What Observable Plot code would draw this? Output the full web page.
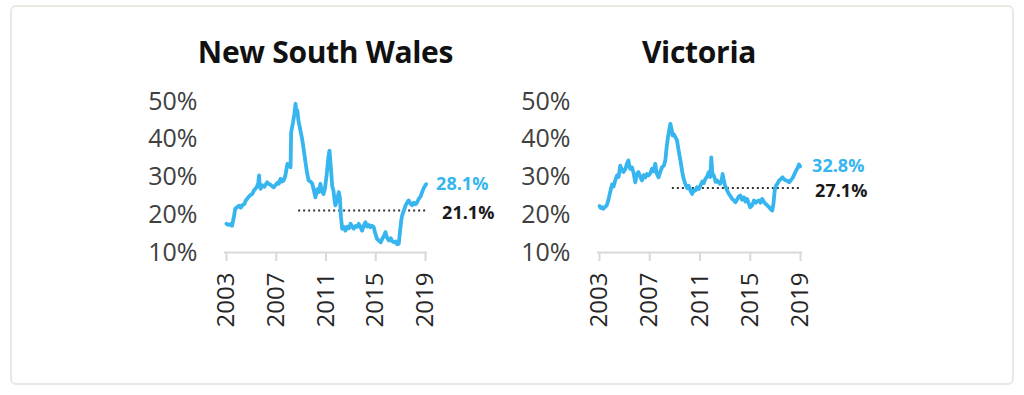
<!DOCTYPE html>
<html><head><meta charset="utf-8">
<script src="https://cdn.jsdelivr.net/npm/d3@7"></script>
<script src="https://cdn.jsdelivr.net/npm/@observablehq/plot@0.6"></script>
<style>
body{margin:0;background:#fff;font-family:"Open Sans",sans-serif;}
#wrap{position:relative;width:1024px;height:395px;overflow:hidden;background:#fff;}
#frame{position:absolute;left:10px;top:5px;width:1004px;height:380px;box-sizing:border-box;border:2px solid #ebe7e3;border-radius:6px;}
.title{position:absolute;width:400px;text-align:center;font-weight:700;font-size:30px;line-height:30px;color:#111;top:37px;font-family:"Open Sans",sans-serif;letter-spacing:-0.3px;}
.panel{position:absolute;top:80px;}
</style></head><body>
<div id="wrap"><div id="frame"></div>
<div class="title" style="left:125.5px">New South Wales</div>
<div class="title" style="left:499px">Victoria</div>
<div class="panel" id="nsw" style="left:140px"></div>
<div class="panel" id="vic" style="left:515px"></div>
</div>
<script>
// ---- Data ----
const titles = ["New South Wales", "Victoria"];
const yTicks = [10, 20, 30, 40, 50];
const xTicks = [2003, 2007, 2011, 2015, 2019];
const avgStart = 2008.8;

const nswYears = [2003.00,2003.15,2003.30,2003.45,2003.60,2003.70,2003.85,2004.00,2004.15,2004.30,2004.45,2004.55,2004.66,2004.80,2004.95,2005.07,2005.20,2005.33,2005.45,2005.55,2005.62,2005.68,2005.75,2005.90,2006.05,2006.15,2006.27,2006.40,2006.55,2006.68,2006.80,2006.95,2007.10,2007.20,2007.34,2007.45,2007.60,2007.72,2007.82,2007.90,2008.05,2008.15,2008.20,2008.35,2008.45,2008.55,2008.62,2008.70,2008.78,2008.90,2009.08,2009.22,2009.35,2009.48,2009.60,2009.75,2009.90,2010.02,2010.15,2010.30,2010.42,2010.55,2010.68,2010.80,2010.92,2011.05,2011.20,2011.28,2011.38,2011.50,2011.60,2011.70,2011.76,2011.88,2012.03,2012.12,2012.20,2012.30,2012.42,2012.56,2012.70,2012.85,2012.97,2013.10,2013.23,2013.38,2013.50,2013.63,2013.75,2013.90,2014.05,2014.17,2014.30,2014.45,2014.57,2014.70,2014.84,2014.95,2015.10,2015.25,2015.40,2015.55,2015.68,2015.78,2015.90,2016.05,2016.20,2016.32,2016.45,2016.60,2016.72,2016.85,2016.95,2017.05,2017.12,2017.25,2017.40,2017.52,2017.65,2017.78,2017.92,2018.05,2018.20,2018.33,2018.45,2018.60,2018.73,2018.85,2018.95,2019.05];
const nswValues = [17.6,17.3,17.5,17.1,19.5,21.6,22.0,22.4,21.9,22.6,22.9,23.8,24.2,24.8,25.3,25.5,26.4,26.9,27.5,28.4,30.4,27.4,26.9,27.8,27.4,28.0,28.6,28.2,27.9,27.5,27.3,27.9,28.5,28.2,29.5,28.8,29.1,30.2,32.0,33.5,33.0,32.6,41.9,44.5,46.5,49.4,47.0,47.6,45.0,43.0,40.1,37.0,33.9,31.0,29.1,28.8,28.2,26.5,24.6,26.8,26.0,28.2,26.2,25.5,27.0,30.5,35.5,37.0,33.0,27.5,26.4,23.5,22.5,24.0,26.0,24.5,19.5,16.3,16.8,15.8,16.8,16.4,17.6,16.9,16.3,17.0,16.8,17.6,16.9,15.8,17.2,18.0,16.9,17.3,16.7,17.1,16.7,15.2,13.6,13.2,12.7,13.8,14.5,15.4,14.0,13.2,13.8,13.0,12.7,12.9,12.2,12.3,15.5,18.5,19.8,21.0,22.5,23.2,23.8,23.0,22.5,23.2,22.8,23.3,24.2,24.8,26.0,27.0,27.6,28.1];
const nswLatest = 28.1;
const nswAverage = 21.1;

const vicYears = [2003.00,2003.10,2003.20,2003.30,2003.45,2003.58,2003.70,2003.85,2004.00,2004.12,2004.25,2004.40,2004.52,2004.65,2004.78,2004.90,2005.05,2005.18,2005.30,2005.38,2005.45,2005.58,2005.70,2005.85,2005.95,2006.10,2006.25,2006.38,2006.52,2006.65,2006.78,2006.90,2007.05,2007.18,2007.30,2007.44,2007.55,2007.70,2007.85,2007.98,2008.12,2008.24,2008.35,2008.45,2008.58,2008.64,2008.75,2008.82,2008.90,2009.05,2009.17,2009.30,2009.44,2009.58,2009.70,2009.85,2010.00,2010.10,2010.25,2010.37,2010.50,2010.63,2010.77,2010.90,2011.03,2011.18,2011.30,2011.43,2011.55,2011.70,2011.82,2011.90,2011.98,2012.10,2012.25,2012.37,2012.50,2012.60,2012.72,2012.80,2012.90,2013.00,2013.15,2013.30,2013.45,2013.56,2013.70,2013.82,2013.95,2014.08,2014.20,2014.35,2014.50,2014.62,2014.75,2014.88,2015.00,2015.15,2015.30,2015.45,2015.58,2015.70,2015.82,2015.95,2016.08,2016.20,2016.35,2016.50,2016.62,2016.75,2016.85,2016.95,2017.05,2017.18,2017.30,2017.45,2017.57,2017.70,2017.83,2017.95,2018.10,2018.25,2018.40,2018.52,2018.65,2018.78,2018.88,2018.97];
const vicValues = [22.3,21.8,22.0,21.6,22.1,22.5,23.8,26.0,28.0,27.5,29.1,30.4,30.0,33.0,32.0,31.3,32.0,33.5,34.4,32.8,32.2,32.6,31.3,28.6,30.5,31.3,30.0,29.1,30.5,29.9,30.8,30.4,31.0,32.2,31.5,33.5,31.0,29.9,31.5,32.6,33.0,34.4,38.0,40.5,43.0,44.1,42.5,41.0,41.4,40.5,39.7,37.0,34.4,31.5,29.5,28.0,27.0,27.7,26.3,25.5,26.5,26.4,27.3,26.8,27.7,28.8,28.4,29.5,30.0,31.3,30.0,35.2,31.0,30.4,28.7,29.1,28.5,28.2,29.0,30.8,29.0,27.7,26.5,25.5,24.8,24.2,23.8,23.3,24.0,24.8,25.1,24.0,24.6,23.5,24.2,23.0,22.0,22.5,23.8,23.2,23.6,23.8,23.2,24.2,23.5,22.9,22.5,22.0,21.5,21.1,23.0,26.5,27.7,28.3,29.1,29.5,29.9,29.4,29.1,29.0,28.6,29.2,29.9,30.8,31.7,32.5,33.3,32.8];
const vicLatest = 32.8;
const vicAverage = 27.1;

// ---- Drawing ----
const BLUE = "#36b5ef";
function panel(years, values, latest, average, o) {
  const series = years.map((y, i) => ({year: y, value: values[i]}));
  const lastYear = years[years.length - 1];
  return Plot.plot({
    width: 380, height: 280,
    marginLeft: o.ml, marginRight: o.mr, marginTop: 21, marginBottom: 108,
    x: {domain: [2003, 2019]},
    y: {domain: [10, 50]},
    style: {fontFamily: "Open Sans, sans-serif", background: "transparent", overflow: "visible"},
    marks: [
      Plot.ruleY([10], {stroke: "#d9d9d9", strokeWidth: 2, insetLeft: -2, insetRight: -2}),
      Plot.axisY({ticks: yTicks, label: null, tickSize: 0, tickPadding: 29, tickFormat: d => d + "%", fontSize: 25, fill: "#404040"}),
      Plot.axisX({ticks: xTicks, label: null, tickSize: 9, tickPadding: 11, tickRotate: -90, tickFormat: d => String(d), fontSize: 24, fill: "#262626", stroke: "#d9d9d9", strokeWidth: 2}),
      Plot.ruleY([average], {x1: avgStart, x2: lastYear, stroke: "#333", strokeWidth: 2, strokeDasharray: "2 3"}),
      Plot.line(series, {x: "year", y: "value", stroke: BLUE, strokeWidth: 3.8, curve: "linear", strokeLinejoin: "round"}),
      Plot.text([latest], {x: lastYear, y: d => d, text: d => d.toFixed(1) + "%", textAnchor: "start", dx: o.dxL, dy: o.dyL, fill: BLUE, fontSize: 18, fontWeight: "bold"}),
      Plot.text([average], {x: lastYear, y: d => d, text: d => d.toFixed(1) + "%", textAnchor: "start", dx: o.dxA, dy: o.dyA, fill: "#1a1a1a", fontSize: 18, fontWeight: "bold"})
    ]
  });
}
document.getElementById("nsw").append(panel(nswYears, nswValues, nswLatest, nswAverage, {ml: 86, mr: 95, dxL: 10, dyL: 0, dxA: 16, dyA: 3}));
document.getElementById("vic").append(panel(vicYears, vicValues, vicLatest, vicAverage, {ml: 84, mr: 95, dxL: 12, dyL: 0, dxA: 15, dyA: 3}));
</script>
</body></html>
